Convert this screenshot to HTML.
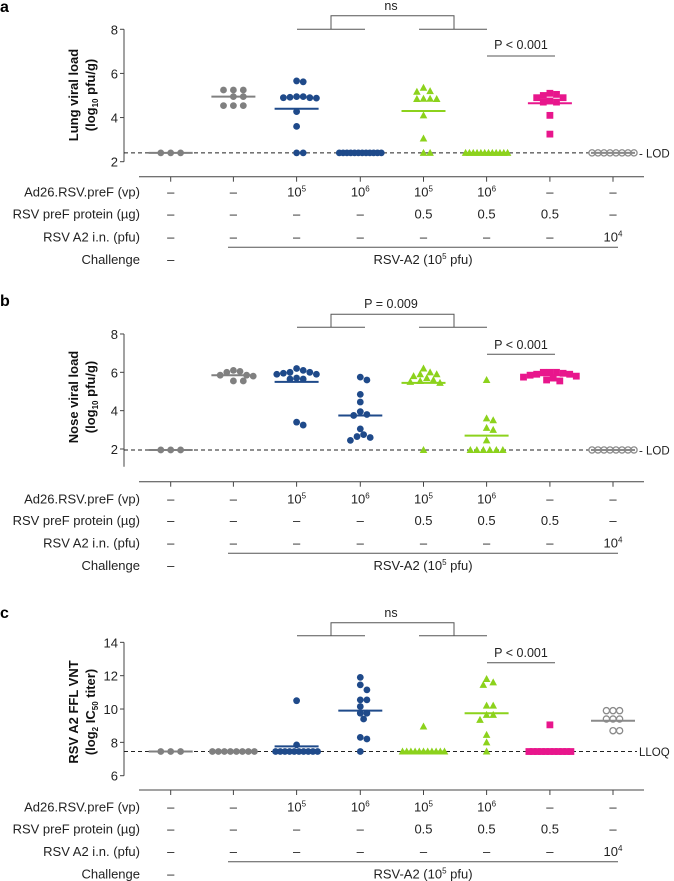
<!DOCTYPE html>
<html><head><meta charset="utf-8">
<style>
html,body{margin:0;padding:0;background:#fff;}
svg{display:block;font-family:"Liberation Sans",sans-serif;}
</style></head>
<body>
<svg id="chart" width="674" height="881" viewBox="0 0 674 881" xmlns="http://www.w3.org/2000/svg"></svg>
<script>
// ---- data ----
const groupCenters = [170.7, 233.4, 296.6, 360.3, 423.5, 486.6, 549.9, 613.0];
const groupColors = ['#808080','#808080','#1f4a8a','#1f4a8a','#8cd21c','#8cd21c','#e8168c','#8a8a8a'];
const groupShapes = ['circle','circle','circle','circle','tri','tri','square','hollow'];
const rowAd26 = ['–','–','10^5','10^6','10^5','10^6','–','–'];
const rowProtein = ['–','–','–','–','0.5','0.5','0.5','–'];
const rowA2 = ['–','–','–','–','–','–','–','10^4'];

const lungValues = [
  [2.4,2.4,2.4],
  [5.25,5.25,5.25,4.95,4.95,4.54,4.54,4.54],
  [5.66,5.62,4.95,4.92,4.9,4.9,4.88,4.95,4.27,3.6,2.4,2.4],
  [2.4,2.4,2.4,2.4,2.4,2.4,2.4,2.4,2.4,2.4,2.4,2.4],
  [5.35,5.2,5.17,4.85,4.85,4.84,4.84,4.1,3.05,2.4,2.4],
  [2.4,2.4,2.4,2.4,2.4,2.4,2.4,2.4,2.4,2.4,2.4,2.4],
  [5.1,5.05,5.0,4.9,4.9,4.75,4.7,4.7,4.1,3.25],
  [2.4,2.4,2.4,2.4,2.4,2.4,2.4,2.4]
];
const lungMedians = [2.4,4.95,4.4,2.4,4.3,2.4,4.65,2.4];

const noseValues = [
  [1.95,1.95,1.95],
  [6.1,6.05,6.0,5.85,5.85,5.8,5.55,5.55],
  [6.2,6.1,6.0,6.0,5.95,5.9,5.9,5.7,5.65,5.65,3.4,3.25],
  [5.75,5.6,4.85,4.45,3.95,3.8,3.75,3.05,2.75,2.65,2.6,2.45],
  [6.2,6.0,5.9,5.9,5.8,5.7,5.6,5.55,5.5,5.45,1.95],
  [5.6,3.6,3.5,3.1,3.0,2.45,1.95,1.95,1.95,1.95,1.95,1.95],
  [6.0,6.0,6.0,5.95,5.9,5.9,5.85,5.8,5.75,5.7,5.6,5.55],
  [1.95,1.95,1.95,1.95,1.95,1.95,1.95,1.95]
];
const noseMedians = [1.95,5.85,5.5,3.75,5.45,2.7,5.85,1.95];

const vntValues = [
  [7.45,7.45,7.45],
  [7.45,7.45,7.45,7.45,7.45,7.45,7.45,7.45],
  [10.5,7.85,7.45,7.45,7.45,7.45,7.45,7.45,7.45,7.45,7.45,7.45],
  [11.9,11.45,11.15,10.55,10.55,10.15,9.75,9.75,9.4,8.3,8.2,7.45],
  [8.95,7.45,7.45,7.45,7.45,7.45,7.45,7.45,7.45,7.45,7.45,7.45],
  [11.8,11.6,11.45,10.2,10.2,9.65,9.65,9.35,8.45,8.0,7.45],
  [9.05,7.45,7.45,7.45,7.45,7.45,7.45,7.45,7.45,7.45,7.45,7.45],
  [9.9,9.9,9.9,9.4,9.4,9.4,8.7,8.7]
];
const vntMedians = [7.45,7.45,7.76,9.9,7.45,9.75,7.45,9.3];

const ticksAB = [2,4,6,8];
const ticksC = [6,8,10,12,14];

// ---- drawing ----
const svg = document.getElementById('chart');
const NS = 'http://www.w3.org/2000/svg';
function mk(tag, attrs, parent){
  const e = document.createElementNS(NS, tag);
  for (const k in attrs) e.setAttribute(k, attrs[k]);
  (parent||svg).appendChild(e);
  return e;
}
function txt(str, x, y, attrs, parent){
  const t = mk('text', Object.assign({x:x, y:y}, attrs), parent);
  const m = str.match(/^(.*)\^(.*)$/);
  if (m){
    t.appendChild(document.createTextNode(m[1]));
    const s = mk('tspan', {'font-size':'8', dy:'-5'}, t);
    s.textContent = m[2];
  } else t.textContent = str;
  return t;
}

// layout: packed rows for large identical sets, beeswarm otherwise
function layout(vals, yS, cx){
  const out = [];
  const counts = {};
  vals.forEach(v=>{ counts[v] = (counts[v]||0) + 1; });
  const placed = [];
  const sorted = vals.slice().sort((a,b)=>b-a);
  const done = {};
  sorted.forEach(v=>{
    if (counts[v] > 4){
      if (done[v]) return;
      done[v] = true;
      const n = counts[v], sp = Math.min(6.5, 42/(n-1));
      for (let i=0;i<n;i++){ const p={x:cx+(i-(n-1)/2)*sp, y:yS(v)}; out.push(p); placed.push(p); }
      return;
    }
    const y = yS(v);
    const cands = [0];
    for (let k=1;k<12;k++){ cands.push(k*3.3, -k*3.3); }
    let chosen = cands[cands.length-1];
    for (const o of cands){
      const x = cx + o;
      if (placed.every(q => Math.hypot(q.x-x, q.y-y) >= 6.6)){ chosen = o; break; }
    }
    const p = {x:cx+chosen, y:y}; out.push(p); placed.push(p);
  });
  return out;
}

const panels = [
  {key:'a', vmin:2, vmax:8, y0:161.7, unit:22.07, axisBottom:161.7, ticks:ticksAB, values:lungValues, medians:lungMedians, ref:2.4, refLabel:'- LOD',
   title1:'Lung viral load', title2:['(log','10',' pfu/g)'], titleY:95, brText:'ns', brTextY:10, brTop:15.7, brLow:29.3, pText:'P < 0.001', pTextY:49, pLine:56, axisY:176.7, rows:[191.7,213.3,236.7,259], chalLine:247.3, labelY:12},
  {key:'b', vmin:2, vmax:8, y0:449, unit:19.17, axisBottom:466.7, ticks:ticksAB, values:noseValues, medians:noseMedians, ref:1.95, refLabel:'- LOD',
   title1:'Nose viral load', title2:['(log','10',' pfu/g)'], titleY:397, brText:'P = 0.009', brTextY:308, brTop:314.3, brLow:327.3, pText:'P < 0.001', pTextY:349, pLine:354.3, axisY:481.7, rows:[498.3,520,542.3,565], chalLine:553.3, labelY:306},
  {key:'c', vmin:6, vmax:14, y0:775.7, unit:16.67, axisBottom:775.7, ticks:ticksC, values:vntValues, medians:vntMedians, ref:7.45, refLabel:'LLOQ',
   title1:'RSV A2 FFL VNT', title2:['(log','2',' IC','50',' titer)'], titleY:712, brText:'ns', brTextY:617, brTop:622.7, brLow:635.7, pText:'P < 0.001', pTextY:657, pLine:662.7, axisY:790, rows:[806.7,828.3,851,873.3], chalLine:861.7, labelY:618}
];

panels.forEach(p=>{
  const g = mk('g', {});
  
  
  const yS = v => p.y0 - (v - p.vmin) * p.unit;
  const lab = txt(p.key, 0, p.labelY, {'font-size':'16','font-weight':'bold',fill:'#000'}, g);
  
  
  const ax = mk('line', {x1:124, x2:124, y1:yS(p.vmax), y2:p.axisBottom, stroke:'#444','stroke-width':1}, g);
  
  
  p.ticks.forEach(t=>{
    mk('line', {x1:120, x2:124, y1:yS(t), y2:yS(t), stroke:'#444','stroke-width':1}, g);
    const tl = txt(String(t), 118, yS(t)+5, {'font-size':'13','text-anchor':'end',fill:'#222'}, g);
    
    
  });
  const tt = mk('text', {transform:`translate(78,${p.titleY}) rotate(-90)`, 'text-anchor':'middle','font-size':'13','font-weight':'bold',fill:'#111'}, g);
  
  
  tt.textContent = p.title1;
  const tt2 = mk('text', {transform:`translate(95,${p.titleY}) rotate(-90)`, 'text-anchor':'middle','font-size':'13','font-weight':'bold',fill:'#111'}, g);
  
  
  p.title2.forEach((s,i)=>{
    const sp = mk('tspan', i%2 ? {'font-size':'8', dy:'3'} : (i>0 ? {dy:'-3'} : {}), tt2);
    sp.textContent = s;
  });
  const rl = mk('line', {x1:124, x2:637, y1:yS(p.ref), y2:yS(p.ref), stroke:'#222','stroke-width':1,'stroke-dasharray':'4,3'}, g);
  
  
  const rt = txt(p.refLabel, 639, yS(p.ref)+4.5, {'font-size':'11.5',fill:'#222'}, g);
  
  
  p.values.forEach((vals, gi)=>{
    const cx = groupCenters[gi], col = groupColors[gi], sh = groupShapes[gi];
    layout(vals, yS, cx).forEach(pt=>{
      const x = pt.x, y = pt.y;
      let m;
      if (sh==='circle') m = mk('circle', {cx:x, cy:y, r:3.4, fill:col}, g);
      else if (sh==='hollow') m = mk('circle', {cx:x, cy:y, r:3.1, fill:'#fff', stroke:col,'stroke-width':1.3}, g);
      else if (sh==='square') m = mk('rect', {x:x-3.4, y:y-3.4, width:6.8, height:6.8, fill:col}, g);
      else m = mk('polygon', {points:`${x},${y-4} ${x-3.8},${y+3} ${x+3.8},${y+3}`, fill:col}, g);
      
      
    });
    const md = mk('line', {x1:cx-22, x2:cx+22, y1:yS(p.medians[gi]), y2:yS(p.medians[gi]), stroke:col,'stroke-width':2}, g);
    
    
  });
  const bc = '#555';
  const br = mk('path', {d:`M297,${p.brLow}H365 M331,${p.brLow}V${p.brTop}H454V${p.brLow} M419,${p.brLow}H487`, fill:'none', stroke:bc,'stroke-width':1}, g);
  
  
  const bt = txt(p.brText, 391, p.brTextY, {'font-size':'12.5','text-anchor':'middle',fill:'#222'}, g);
  
  
  const pl = mk('line', {x1:487, x2:555, y1:p.pLine, y2:p.pLine, stroke:bc,'stroke-width':1}, g);
  
  
  const pt = txt(p.pText, 521, p.pTextY, {'font-size':'12.5','text-anchor':'middle',fill:'#222'}, g);
  
  
  const xa = mk('line', {x1:139, x2:644, y1:p.axisY, y2:p.axisY, stroke:'#444','stroke-width':1}, g);
  
  
  groupCenters.forEach(cx=> mk('line', {x1:cx, x2:cx, y1:p.axisY, y2:p.axisY+5, stroke:'#444','stroke-width':1}, g));
  const rowNames = ['Ad26.RSV.preF (vp)','RSV preF protein (µg)','RSV A2 i.n. (pfu)','Challenge'];
  const rowData = [rowAd26, rowProtein, rowA2];
  rowNames.forEach((nm,ri)=>{
    const y = p.rows[ri] + 5;
    const t = txt(nm, 140, y, {'font-size':'13','text-anchor':'end',fill:'#222'}, g);
    
    
    if (ri < 3) rowData[ri].forEach((s,gi)=>{
      const c = txt(s, groupCenters[gi], y, {'font-size':'13','text-anchor':'middle',fill:'#222'}, g);
      
      
    });
  });
  const d1 = txt('–', groupCenters[0], p.rows[3]+5, {'font-size':'13','text-anchor':'middle',fill:'#222'}, g);
  
  
  const cl = mk('line', {x1:228, x2:618, y1:p.chalLine, y2:p.chalLine, stroke:'#555','stroke-width':1}, g);
  
  
  const ct = mk('text', {x:423, y:p.rows[3]+5, 'font-size':'13','text-anchor':'middle',fill:'#222'}, g);
  
  
  ct.appendChild(document.createTextNode('RSV-A2 (10'));
  const s5 = mk('tspan', {'font-size':'8', dy:'-5'}, ct); s5.textContent='5';
  const s6 = mk('tspan', {dy:'5'}, ct); s6.textContent=' pfu)';
});
</script>
</body></html>
